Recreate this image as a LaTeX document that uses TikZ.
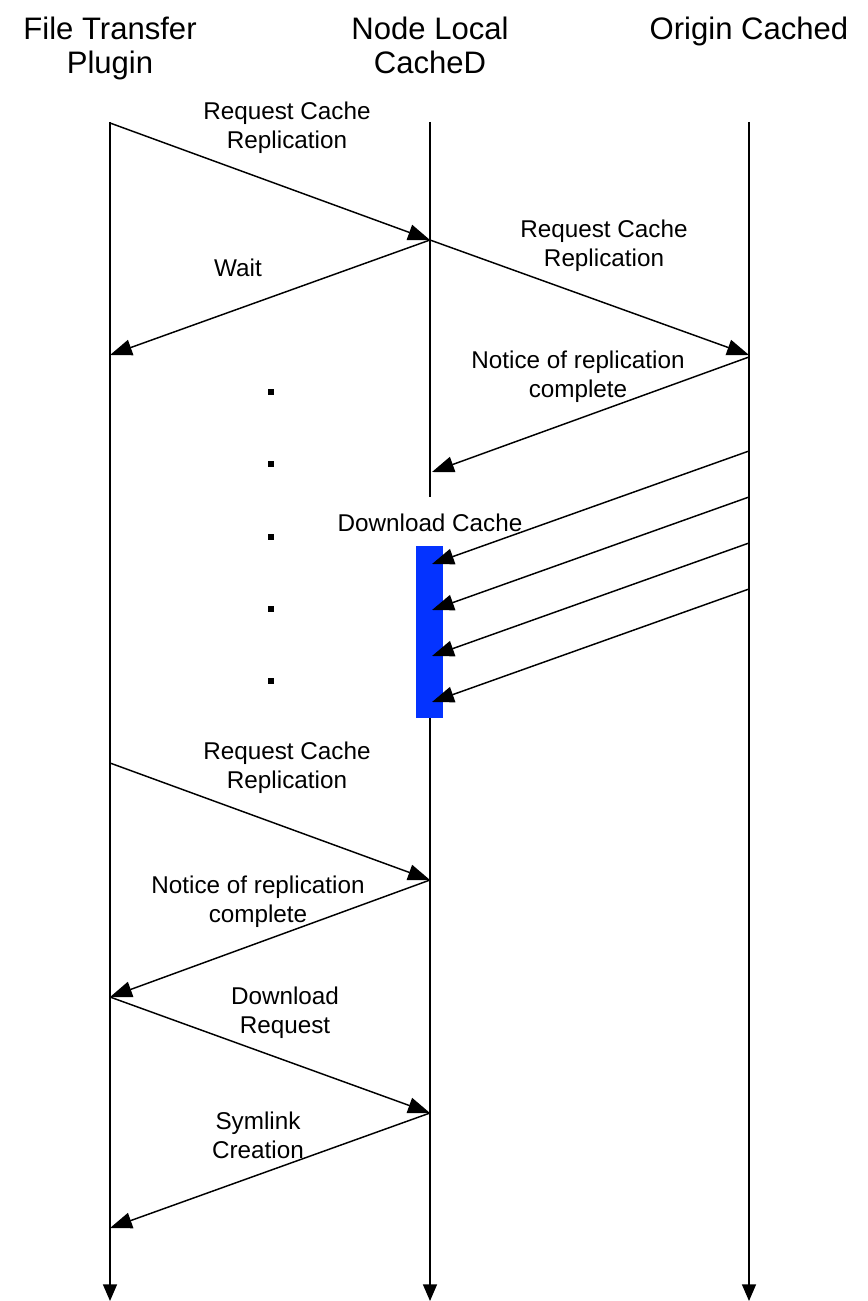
\documentclass[tikz,border=0pt]{standalone}
\usepackage{fontspec}
\setmainfont{Liberation Sans}
\usetikzlibrary{arrows.meta}
\definecolor{barblue}{RGB}{4,51,255}
\begin{document}
\begin{tikzpicture}[x=0.75pt,y=-0.75pt,
  msg/.style={line width=1.1pt,-{Triangle[length=16.5pt,width=12pt]}},
  life/.style={line width=1.1pt},
  lifeend/.style={line width=1.1pt,-{Triangle[length=12.5pt,width=10.5pt]}},
  lbl/.style={align=center,font=\fontsize{18.2}{21.8}\selectfont,inner sep=0pt},
  hdr/.style={align=center,font=\fontsize{23.3}{25.5}\selectfont,inner sep=0pt},
  dotbox/.style={fill=black,inner sep=0pt,minimum size=4.8pt},
  actbar/.style={fill=barblue,draw=none,inner sep=0pt,minimum width=20pt,minimum height=129pt}]
\useasboundingbox (0,0) rectangle (867,1301);

% headers
\node[hdr] (hA) at (110,48) {File Transfer\\Plugin};
\node[hdr] (hB) at (430,45) {Node Local\\CacheD};
\node[hdr] (hC) at (749,31) {Origin Cached};

% lifeline coordinates
\coordinate (A0) at (110,122);
\coordinate (Aend) at (110,1301);
\coordinate (B0) at (430,122);
\coordinate (Bgap) at (430,497);
\coordinate (B1) at (430,718);
\coordinate (Bend) at (430,1301);
\coordinate (C0) at (749,122);
\coordinate (Cend) at (749,1301);

% activation bar
\node[actbar] (bar) at (429.5,632) {};

% lifelines
\draw[lifeend] (A0) -- (Aend);
\draw[life] (B0) -- (Bgap);
\draw[lifeend] (B1) -- (Bend);
\draw[lifeend] (C0) -- (Cend);

% message points
\coordinate (a1) at (110,123);
\coordinate (b1) at (430,240);
\coordinate (a2) at (110,355);
\coordinate (c1) at (749,355);
\coordinate (c2) at (749,357);
\coordinate (b2) at (432,472);
\coordinate (c3) at (749,451);
\coordinate (b3) at (432,564);
\coordinate (c4) at (749,497);
\coordinate (b4) at (432,610);
\coordinate (c5) at (749,543);
\coordinate (b5) at (432,656);
\coordinate (c6) at (749,589);
\coordinate (b6) at (432,702);
\coordinate (a3) at (110,763);
\coordinate (b7) at (430,880);
\coordinate (a4) at (110,997);
\coordinate (b8) at (430,1113);
\coordinate (a5) at (110,1228);

% messages
\draw[msg] (a1) -- (b1);
\draw[msg] (b1) -- (a2);
\draw[msg] (b1) -- (c1);
\draw[msg] (c2) -- (b2);
\draw[msg] (c3) -- (b3);
\draw[msg] (c4) -- (b4);
\draw[msg] (c5) -- (b5);
\draw[msg] (c6) -- (b6);
\draw[msg] (a3) -- (b7);
\draw[msg] (b7) -- (a4);
\draw[msg] (a4) -- (b8);
\draw[msg] (b8) -- (a5);

% labels
\node[lbl] (l1) at (287,128) {Request Cache\\Replication};
\node[lbl] (l2) at (238,268) {Wait};
\node[lbl] (l3) at (604,246) {Request Cache\\Replication};
\node[lbl] (l4) at (578,377) {Notice of replication\\complete};
\node[lbl] (l5) at (430,523) {Download Cache};
\node[lbl] (l6) at (287,768) {Request Cache\\Replication};
\node[lbl] (l7) at (258,902) {Notice of replication\\complete};
\node[lbl] (l8) at (285,1013) {Download\\Request};
\node[lbl] (l9) at (258,1135) {Symlink\\Creation};

% dots
\node[dotbox] (d1) at (271,392) {};
\node[dotbox] (d2) at (271,464) {};
\node[dotbox] (d3) at (271,537) {};
\node[dotbox] (d4) at (271,609) {};
\node[dotbox] (d5) at (271,681) {};
\end{tikzpicture}
\end{document}
